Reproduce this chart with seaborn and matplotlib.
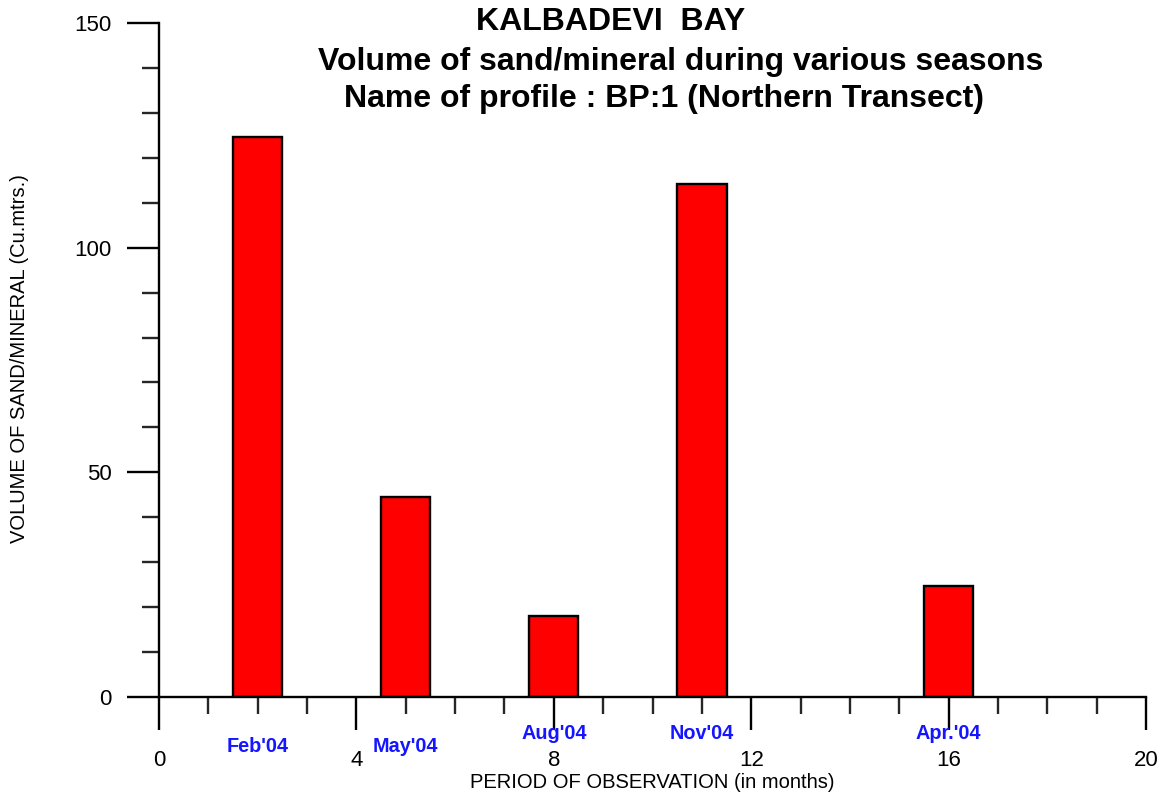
import matplotlib
matplotlib.use("Agg")
import matplotlib.pyplot as plt
from matplotlib.ticker import MultipleLocator
import seaborn as sns
import pandas as pd

# ---- data ----
months = [2, 5, 8, 11, 16]
volumes = [124.6, 44.4, 18.0, 114.2, 24.7]
season_labels = ["Feb'04", "May'04", "Aug'04", "Nov'04", "Apr.'04"]
label_low = [True, True, False, False, False]

title_lines = ["KALBADEVI  BAY",
               "Volume of sand/mineral during various seasons",
               "Name of profile : BP:1 (Northern Transect)"]
x_label = "PERIOD OF OBSERVATION (in months)"
y_label = "VOLUME OF SAND/MINERAL (Cu.mtrs.)"

sns.set_style("white")
plt.rcParams["font.family"] = ["Liberation Sans", "DejaVu Sans"]
plt.rcParams["text.color"] = "black"

df = pd.DataFrame({"month": months, "volume": volumes})

fig = plt.figure(figsize=(11.65, 7.97), dpi=100)
ax = fig.add_axes([159/1165, 1-697/797, (1146-159)/1165, (697-23)/797])

min_gap = min(b - a for a, b in zip(months[:-1], months[1:]))
sns.barplot(data=df, x="month", y="volume", native_scale=True,
            width=1.0/min_gap, color="#ff0000", saturation=1,
            edgecolor="black", linewidth=1.7, errorbar=None, ax=ax)

ax.set_xlim(0, 20)
ax.set_ylim(0, 150)
ax.xaxis.set_major_locator(MultipleLocator(4))
ax.xaxis.set_minor_locator(MultipleLocator(1))
ax.yaxis.set_major_locator(MultipleLocator(50))
ax.yaxis.set_minor_locator(MultipleLocator(10))

for s in ["top", "right"]:
    ax.spines[s].set_visible(False)
for s in ["left", "bottom"]:
    ax.spines[s].set_linewidth(1.7)
    ax.spines[s].set_color("black")

ax.tick_params(axis="x", which="major", direction="out", length=24, width=1.7,
               pad=14, labelsize=16, colors="black", bottom=True)
ax.tick_params(axis="x", which="minor", direction="out", length=12.5, width=1.7,
               bottom=True)
ax.tick_params(axis="y", which="major", direction="out", length=23, width=1.7,
               pad=11, labelsize=16, colors="black", left=True)
ax.tick_params(axis="y", which="minor", direction="out", length=12.5, width=1.7,
               left=True)

ax.set_xlabel("")
ax.set_ylabel("")

for xm, lab, low in zip(months, season_labels, label_low):
    ax.annotate(lab, xy=(xm, 0), xycoords="data",
                xytext=(0, -35.5 if low else -26), textcoords="offset points",
                ha="center", va="center", color="#1515ff",
                fontsize=14.3, fontweight="bold")

fig.text(652/1165, 1-783/797, x_label, ha="center", va="center",
         fontsize=14.5, color="black")
fig.text(20/1165, 1-359/797, y_label, ha="center", va="center",
         rotation=90, fontsize=14.5, color="black")

fig.text(611/1165, 1-22/797, title_lines[0], ha="center", va="center",
         fontsize=23, fontweight="bold", color="black")
fig.text(681/1165, 1-62/797, title_lines[1], ha="center", va="center",
         fontsize=23, fontweight="bold", color="black")
fig.text(664/1165, 1-99/797, title_lines[2], ha="center", va="center",
         fontsize=23, fontweight="bold", color="black")

fig.savefig("out.png", dpi=100)
